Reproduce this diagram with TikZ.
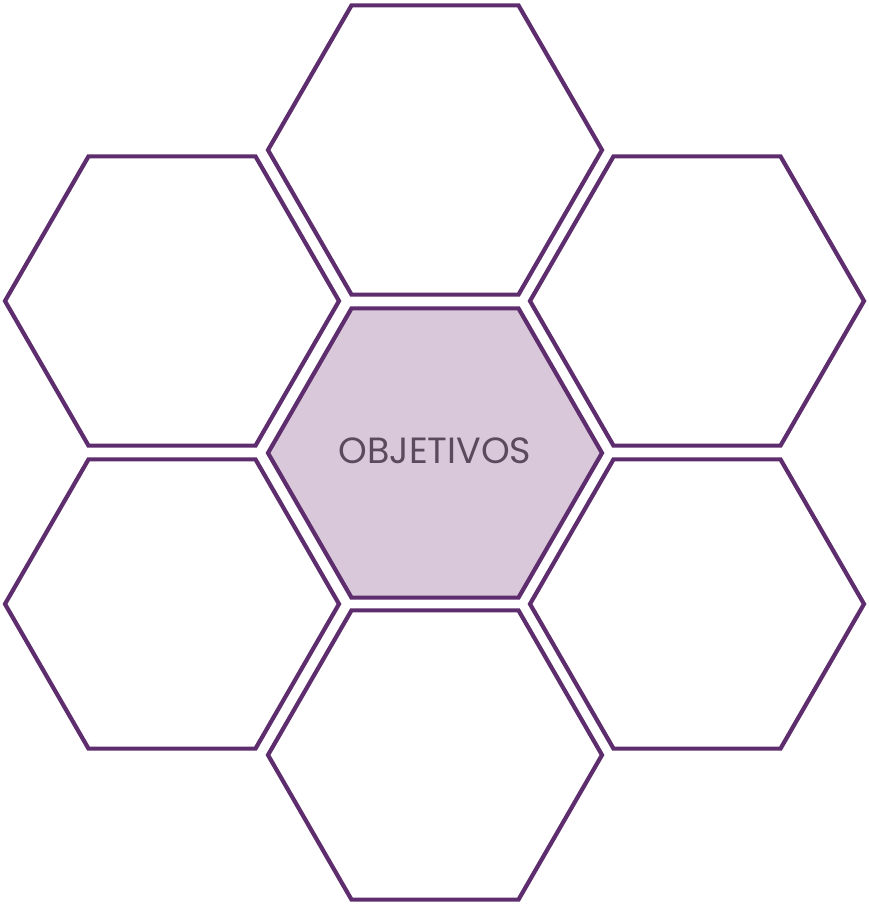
\documentclass[tikz,border=0pt]{standalone}
\usepackage{fontspec}
\setmainfont{Poppins}
\usetikzlibrary{shapes.geometric}
\definecolor{hexline}{HTML}{5E2D6E}
\definecolor{hexfill}{HTML}{D9C8D9}
\definecolor{hextext}{HTML}{5A4A5E}

\begin{document}
\begin{tikzpicture}[x=1pt,y=-1pt,
  hexcell/.style={regular polygon, regular polygon sides=6, minimum size=334pt,
    inner sep=0pt, outer sep=0pt, draw=hexline, line width=4.2pt, fill=white}]
\useasboundingbox (0,0) rectangle (868,904);
\node[hexcell] (htop) at (435,150) {};
\node[hexcell] (hul) at (172,301) {};
\node[hexcell] (hur) at (697,301) {};
\node[hexcell] (hll) at (172,604) {};
\node[hexcell] (hlr) at (697,604) {};
\node[hexcell] (hbot) at (435,755) {};
\node[hexcell, fill=hexfill, text=hextext] (hmid) at (435,453) {};
\node[text=hextext, anchor=center] (goal) at (435,451) {\fontsize{36.5}{40}\selectfont OBJETIVOS};
\end{tikzpicture}
\end{document}
